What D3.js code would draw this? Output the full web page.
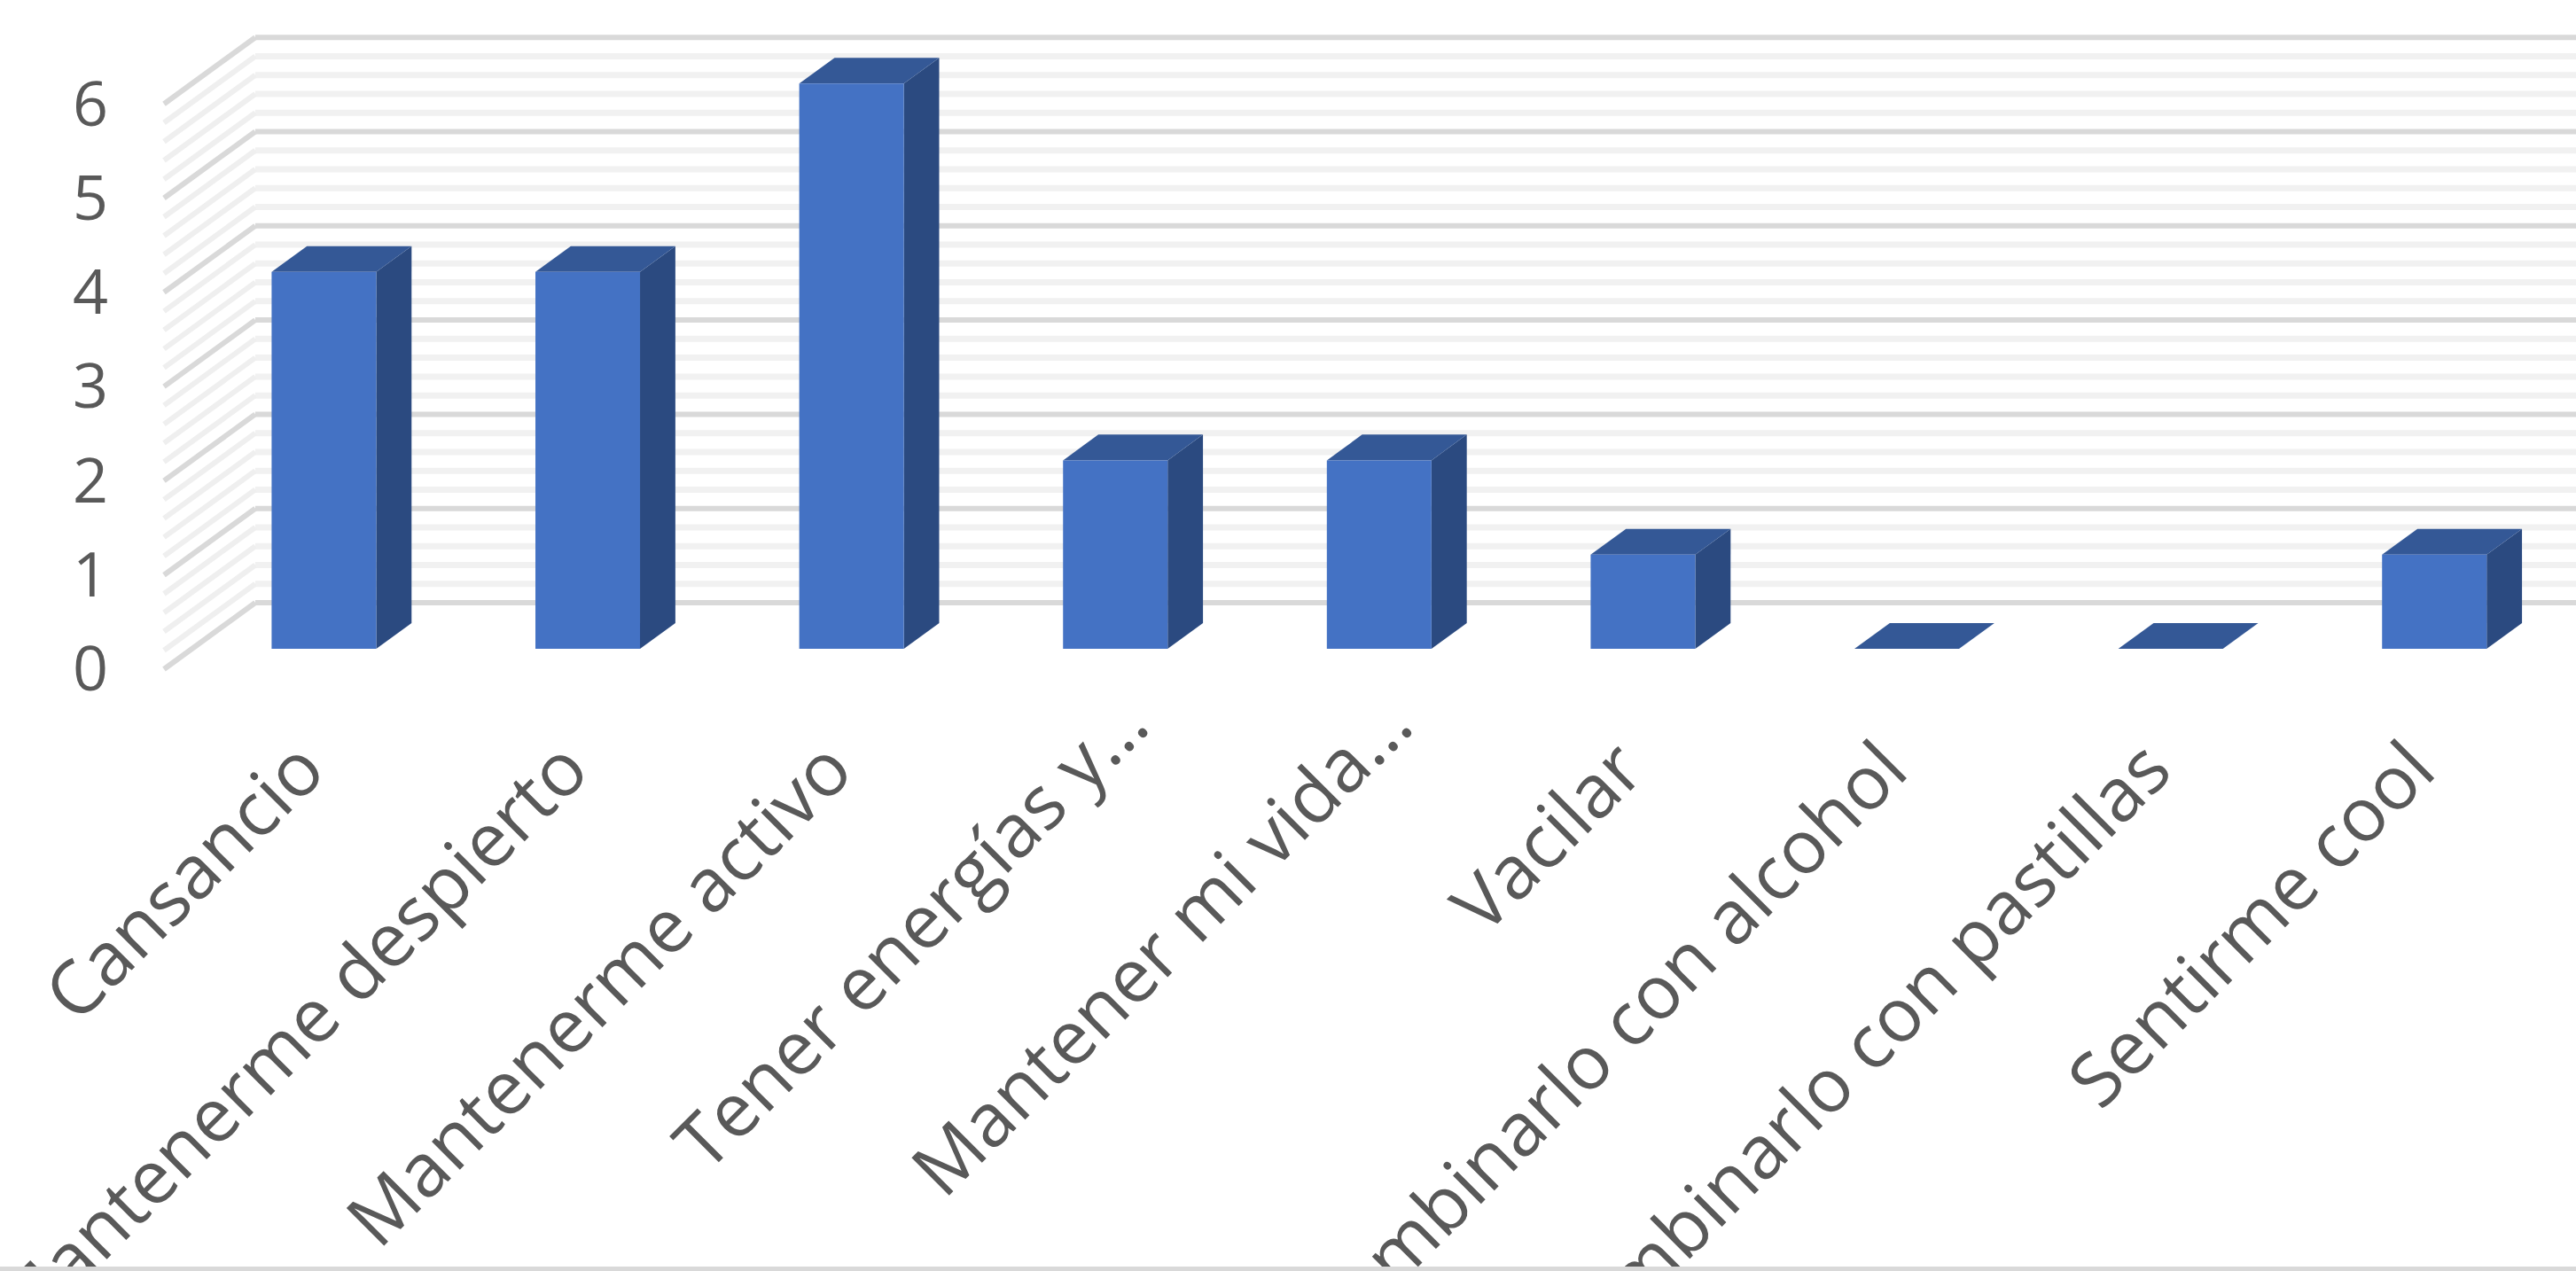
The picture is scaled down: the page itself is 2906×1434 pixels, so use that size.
<!DOCTYPE html>
<html>
<head>
<meta charset="utf-8">
<script src="https://cdn.jsdelivr.net/npm/d3@7"></script>
<style>
  html, body { margin: 0; padding: 0; background: #ffffff; overflow: hidden; }
  svg { display: block; }
</style>
</head>
<body>
<svg id="chart" width="2906" height="1434"></svg>
<script>
// ---- data ----
const categories = [
  "Cansancio",
  "Mantenerme despierto",
  "Mantenerme activo",
  "Tener energías y…",
  "Mantener mi vida…",
  "Vacilar",
  "Combinarlo con alcohol",
  "Combinarlo con pastillas",
  "Sentirme cool"
];
const values = [4, 4, 6, 2, 2, 1, 0, 0, 1];
const yTickValues = [0, 1, 2, 3, 4, 5, 6];
const yMax = 6;

// ---- layout ----
const W = 2906, H = 1434;
const frontLeft = 185;          // front edge of the floor / side wall
const step = 297.6;             // category step
const floorFrontY = 755;        // value 0 on the front plane
const unit = 106.3;             // px per value unit
const DX = 103, DY = -75;       // depth vector (front -> back wall)
const d0 = 0.307, d1 = 0.694;   // bar depth slab
const barRatio = 118 / step;

const svg = d3.select("#chart");

const x = d3.scaleBand()
  .domain(categories)
  .range([frontLeft, frontLeft + step * categories.length])
  .paddingInner(1 - barRatio)
  .paddingOuter((1 - barRatio) / 2);

const y = d3.scaleLinear()
  .domain([0, yMax])
  .range([floorFrontY, floorFrontY - unit * yMax]);

function P(px, v, d) { return [px + d * DX, y(v) + d * DY]; }
const line = d3.line();

// ---- back wall gridlines (minor then major) ----
const wallRight = W + 50;
const minorTicks = d3.range(0, yMax + 1e-9, 0.2).filter(v => Math.abs(v - Math.round(v)) > 1e-6);

const walls = svg.append("g");
walls.selectAll("line.bminor").data(minorTicks).join("line")
  .attr("x1", frontLeft + DX).attr("x2", wallRight)
  .attr("y1", v => y(v) + DY).attr("y2", v => y(v) + DY)
  .attr("stroke", "#f1f1f1").attr("stroke-width", 7);
walls.selectAll("line.bmajor").data(yTickValues).join("line")
  .attr("x1", frontLeft + DX).attr("x2", wallRight)
  .attr("y1", v => y(v) + DY).attr("y2", v => y(v) + DY)
  .attr("stroke", "#d9d9d9").attr("stroke-width", 6);

// ---- side wall diagonals ----
walls.selectAll("path.sminor").data(minorTicks).join("path")
  .attr("d", v => line([P(frontLeft, v, 0), P(frontLeft, v, 1)]))
  .attr("stroke", "#efefef").attr("stroke-width", 6).attr("fill", "none");
walls.selectAll("path.smajor").data(yTickValues).join("path")
  .attr("d", v => line([P(frontLeft, v, 0), P(frontLeft, v, 1)]))
  .attr("stroke", "#d9d9d9").attr("stroke-width", 6).attr("fill", "none");

// ---- bars ----
const bars = svg.append("g");
const data = categories.map((c, i) => ({ c, v: values[i] }));
const bw = x.bandwidth();

const barG = bars.selectAll("g.bar").data(data).join("g").attr("class", "bar");
// side face
barG.append("path")
  .attr("d", d => {
    const x1 = x(d.c) + bw;
    return line([P(x1, d.v, d0), P(x1, d.v, d1), P(x1, 0, d1), P(x1, 0, d0)]) + "Z";
  })
  .attr("fill", "#2B4A80");
// top face
barG.append("path")
  .attr("d", d => {
    const x0 = x(d.c), x1 = x0 + bw;
    return line([P(x0, d.v, d0), P(x1, d.v, d0), P(x1, d.v, d1), P(x0, d.v, d1)]) + "Z";
  })
  .attr("fill", "#345896");
// front face
barG.append("path")
  .attr("d", d => {
    const x0 = x(d.c), x1 = x0 + bw;
    return line([P(x0, d.v, d0), P(x1, d.v, d0), P(x1, 0, d0), P(x0, 0, d0)]) + "Z";
  })
  .attr("fill", "#4472C4");

// ---- y axis labels ----
const yAxis = d3.axisLeft(y).tickValues(yTickValues).tickSize(0).tickPadding(0).tickFormat(d3.format("d"));
const yG = svg.append("g").attr("transform", "translate(122,0)").call(yAxis);
yG.select(".domain").remove();
yG.selectAll("text")
  .attr("x", 0).attr("dy", "0.34em")
  .attr("fill", "#595959")
  .style("font-family", "'Open Sans', sans-serif")
  .style("font-size", "70px");

// ---- x axis labels (rotated) ----
const xAxis = d3.axisBottom(x).tickSize(0).tickPadding(0);
const xG = svg.append("g")
  .attr("transform", `translate(${d0 * DX + 5},873)`)
  .call(xAxis);
xG.select(".domain").remove();
xG.selectAll("text")
  .attr("text-anchor", "end")
  .attr("transform", "rotate(-45)")
  .attr("x", d => d.endsWith("…") ? 62 : 0)
  .attr("y", d => d.endsWith("…") ? -10 : 0)
  .attr("dy", "0")
  .attr("fill", "#595959")
  .style("font-family", "'Open Sans', sans-serif")
  .style("font-size", "84px");

// ---- bottom border ----
svg.append("rect").attr("x", 0).attr("y", H - 5).attr("width", W).attr("height", 5).attr("fill", "#d9d9d9");
</script>
</body>
</html>
